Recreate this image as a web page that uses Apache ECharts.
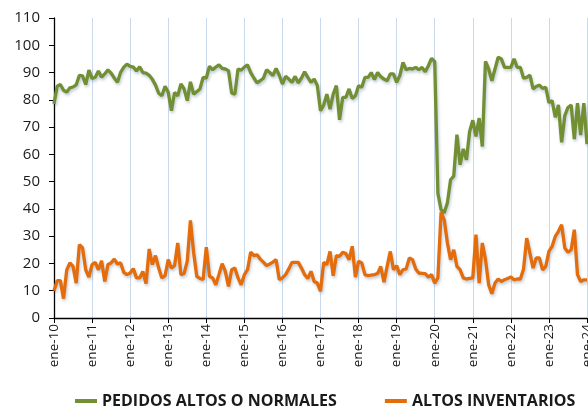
<!DOCTYPE html>
<html>
<head>
<meta charset="utf-8">
<script src="https://cdn.jsdelivr.net/npm/echarts@6/dist/echarts.min.js"></script>
<style>
html,body{margin:0;padding:0;background:#fff;}
#chart{width:588px;height:407px;}
</style>
</head>
<body>
<div id="chart"></div>
<script>
// Month abbreviations and years for the category labels
var monthNames = ['ene','feb','mar','abr','may','jun','jul','ago','sep','oct','nov','dic'];
var years = ['10','11','12','13','14','15','16','17','18','19','20','21','22','23','24'];
var categories = [];
for (var y = 0; y < years.length; y++) {
  for (var mm = 0; mm < 12; mm++) {
    if (y === years.length - 1 && mm > 0) break;
    categories.push(monthNames[mm] + '-' + years[y]);
  }
}

var yTicks = [0,10,20,30,40,50,60,70,80,90,100,110];

var pedidos = [
  78.5,85,85.6,83.5,82.8,84.4,84.7,85.5,89,88.8,85.6,90.9,
  87.8,88.3,90.6,88.3,89.5,91,89.8,88,86.4,90.1,92,93.1,
  92.3,92,90.6,92.1,90,89.8,89,87.5,85.4,82.4,81.5,85,
  82.8,76,82.7,81.5,85.8,84,79.7,86.6,82.1,83,84,88.2,
  88,92.3,91,92,92.8,91.5,91.3,90.7,82.5,82.1,91.3,90.9,
  92,92.8,90,88,86.2,87,87.9,91,90,88.9,91.5,89,
  85.8,88.6,87.6,86.4,88.6,86.2,88,90.3,88.2,86.4,87.6,85.2,
  76,78.1,82.1,76.6,82.1,85.2,72.7,80.9,80.9,84,80.5,81.5,
  85.2,84.6,88.2,88.2,90,87.4,90,88.5,87.6,87,89.5,89.5,
  86.4,88.9,93.7,91,91.5,91.3,91.9,91,91.9,90.3,92.5,95.2,
  94,45.8,39.7,38.6,42.3,50.7,52,67.2,56.2,62,58,68.4,
  72.5,66.6,73.3,62.9,94.1,91.3,87,91.3,95.6,95,91.9,91.9,
  91.9,95,91.9,91.9,87.9,88.2,89.1,84,84.9,85.4,84.2,84.6,
  79,79.7,73.6,78.1,64.4,74.2,77.2,78.1,65.6,78.8,67.1,78.8,
  63.8
];

var inventarios = [
  10,13.7,13.7,7.1,17.5,20.2,18.9,12.8,26.9,25.7,17.7,15,
  19.6,20.4,17.7,21,13.4,19.6,20.2,21.6,19.8,20.2,16.7,15.9,
  16.5,18.1,14.7,14.7,17.1,12.6,25.3,19.6,22.9,18.3,14.7,15.5,
  21.4,18.3,19.2,27.5,15.9,16.3,20.8,35.8,24.1,15.3,14.5,14.1,
  26,15.3,14.7,12.2,16,19.9,17.1,11.6,17.7,18.3,14.7,12.2,
  15.9,17.7,24.2,22.9,23.2,21.6,20.5,19.2,19.8,20.5,21.4,14.1,
  14.7,15.9,18,20.4,20.4,20.4,18.3,15.9,14.5,17.1,13.4,12.8,
  9.8,20.4,19.6,24.4,15.5,22.9,22.6,24.1,23.6,21.4,26.3,15,
  20.8,20.2,15.9,15.5,15.7,15.9,16.3,18.9,13.1,18.9,24.4,17.7,
  19.2,15.9,17.7,18,22,21.4,18,16.5,16.4,16.3,15,15.9,
  12.8,14.7,38.7,36,27.5,21.4,25,18.9,17.7,14.7,14.3,14.5,
  14.7,30.6,12.8,27.5,21.4,12.2,8.9,12.8,14.3,13.4,14,14.5,
  15,14,14.3,14.3,18,29.3,23.8,18.3,22,22,17.7,18.9,
  24.4,26.3,29.9,31.8,34.2,25.7,24.1,25,32.4,15.9,13.4,14,
  14
];

var seriesNames = ['PEDIDOS ALTOS O NORMALES', 'ALTOS INVENTARIOS'];
var colors = ['#728f34', '#e46c0a'];

var yearTick = function (i) { return i % 12 === 0; };

var chart = echarts.init(document.getElementById('chart'), null, {renderer: 'canvas'});
chart.setOption({
  animation: false,
  color: colors,
  grid: {left: 54, right: 1, top: 18, bottom: 89, containLabel: false, outerBoundsMode: 'none'},
  legend: {
    bottom: -7,
    left: 70,
    itemGap: 48,
    itemWidth: 22,
    itemHeight: 4,
    icon: 'rect',
    textStyle: {fontFamily: 'Open Sans', fontWeight: 'bold', fontSize: 16, color: '#1a1a1a'},
    data: seriesNames
  },
  xAxis: {
    type: 'category',
    data: categories,
    boundaryGap: false,
    axisLine: {show: true, lineStyle: {color: '#000', width: 1.3}},
    axisTick: {show: true, interval: yearTick, length: 5, lineStyle: {color: '#000'}},
    splitLine: {show: true, interval: yearTick, lineStyle: {color: '#c9d8ea', width: 1}},
    axisLabel: {
      interval: yearTick,
      rotate: 90,
      margin: 6,
      fontFamily: 'Open Sans',
      fontSize: 13.5,
      color: '#1a1a1a'
    }
  },
  yAxis: {
    type: 'value',
    min: 0,
    max: 110,
    interval: 10,
    axisLine: {show: true, lineStyle: {color: '#000', width: 1.3}},
    axisTick: {show: true, length: 5, lineStyle: {color: '#000'}},
    splitLine: {show: false},
    axisLabel: {
      margin: 14,
      fontFamily: 'Open Sans',
      fontSize: 15,
      color: '#1a1a1a',
      formatter: function (v) { return yTicks.indexOf(v) >= 0 ? String(v) : ''; }
    }
  },
  series: [
    {
      name: seriesNames[0],
      type: 'line',
      data: pedidos,
      symbol: 'none',
      lineStyle: {width: 3.3, color: colors[0], shadowColor: 'rgba(70,100,140,0.35)', shadowBlur: 3, shadowOffsetX: 1, shadowOffsetY: 2}
    },
    {
      name: seriesNames[1],
      type: 'line',
      data: inventarios,
      symbol: 'none',
      lineStyle: {width: 3.3, color: colors[1], shadowColor: 'rgba(70,100,140,0.35)', shadowBlur: 3, shadowOffsetX: 1, shadowOffsetY: 2}
    }
  ]
});
</script>
</body>
</html>
